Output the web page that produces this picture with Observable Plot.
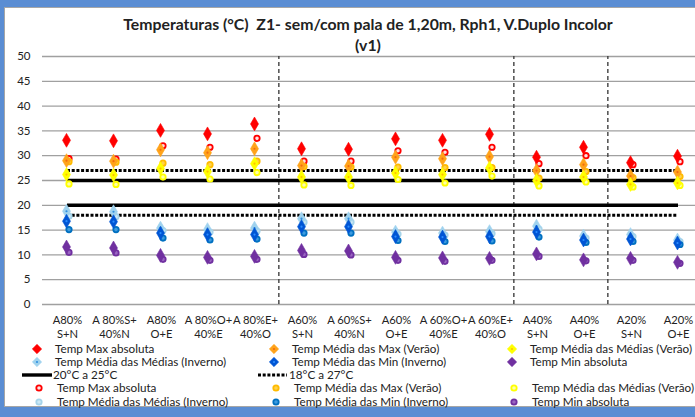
<!DOCTYPE html>
<html><head><meta charset="utf-8">
<script src="https://cdn.jsdelivr.net/npm/d3@7"></script>
<script src="https://cdn.jsdelivr.net/npm/@observablehq/plot@0.6"></script>
<style>
body{margin:0;font-family:Lato,"Open Sans",sans-serif;}
#wrap{position:relative;width:695px;height:417px;overflow:hidden;background:#5a8dd3;}
#panel{position:absolute;left:4px;top:7px;width:760px;height:400px;background:#fff;border:1px solid #a6a6a6;box-sizing:border-box;}
#title{position:absolute;left:0;width:736px;top:13px;text-align:center;font-weight:bold;font-size:15.8px;line-height:21px;color:#222;white-space:pre;}
#chart{position:absolute;left:0;top:0;}
#legend{position:absolute;left:0;top:0;}
</style></head><body>
<div id="wrap"><div id="panel"></div><div id="chart"></div><div id="title"></div><svg id="legend" width="695" height="417"></svg></div>
<script>
const titleLines = ["Temperaturas (°C)  Z1- sem/com pala de 1,20m, Rph1, V.Duplo Incolor", "(v1)"];
const line1 = ["A80%","A 80%S+","A80%","A 80%O+","A 80%E+","A60%","A 60%S+","A60%","A 60%O+","A 60%E+","A40%","A40%","A20%","A20%"];
const line2 = ["S+N","40%N","O+E","40%E","40%O","S+N","40%N","O+E","40%E","40%O","S+N","O+E","S+N","O+E"];
const categories = line1.map((a, i) => a + " " + line2[i]);
const yTicks = [0, 5, 10, 15, 20, 25, 30, 35, 40, 45, 50];
const dividers = ["A60% S+N", "A40% S+N", "A20% S+N"];
const solidLimits = [20, 25];
const dottedLimits = [18, 27];

// diamonds
const maxAbsD  = [33.1, 33.0, 35.1, 34.4, 36.4, 31.4, 31.3, 33.4, 33.1, 34.3, 29.7, 31.7, 28.6, 29.9];
const medMaxD  = [29.0, 28.9, 31.2, 30.6, 31.4, 28.0, 27.9, 29.7, 29.4, 29.8, 27.0, 28.2, 25.9, 26.7];
const medMedVD = [26.2, 26.1, 27.4, 26.8, 28.4, 25.7, 25.7, 26.5, 26.2, 27.5, 25.0, 25.7, 24.2, 24.5];
const medMedID = [18.8, 18.7, 15.4, 15.1, 15.4, 17.3, 17.3, 14.6, 14.4, 14.7, 15.8, 13.8, 14.1, 13.0];
const minMedD  = [16.8, 16.7, 14.4, 14.1, 14.1, 15.7, 15.7, 13.7, 13.6, 13.7, 14.6, 13.0, 13.2, 12.4];
const minAbsD  = [11.6, 11.4, 9.9, 9.5, 9.7, 10.9, 10.8, 9.5, 9.4, 9.3, 10.2, 9.0, 9.3, 8.5];
// circles
const maxAbsC  = [29.4, 29.3, 32.0, 31.7, 33.5, 28.9, 28.9, 31.0, 30.7, 31.7, 28.4, 30.0, 28.2, 28.8];
const medMaxC  = [28.8, 28.7, 28.5, 28.2, 28.9, 27.8, 27.7, 27.7, 27.6, 27.6, 25.5, 26.8, 25.6, 25.8];
const medMedVC = [24.3, 24.2, 25.7, 25.3, 26.6, 24.1, 24.0, 25.2, 24.5, 25.9, 23.9, 24.7, 23.7, 24.0];
const medMedIC = [17.8, 17.7, 14.9, 14.6, 14.8, 16.6, 16.6, 14.2, 14.0, 14.3, 15.2, 13.4, 13.7, 12.7];
const minMedC  = [15.1, 15.1, 13.4, 13.0, 13.2, 14.4, 14.4, 12.9, 12.7, 12.8, 13.6, 12.5, 12.7, 12.1];
const minAbsC  = [10.5, 10.4, 9.1, 8.9, 9.1, 10.1, 10.0, 8.9, 8.7, 8.9, 9.7, 8.8, 8.9, 8.3];

const seriesNames = ["Temp Max absoluta", "Temp Média das Max (Verão)", "Temp Média das Médias (Verão)",
  "Temp Média das Médias (Inverno)", "Temp Média das Min (Inverno)", "Temp Min absoluta"];
const diamondSeries = [
  {name: seriesNames[0], values: maxAbsD,  fill: "#ff0000", center: "#ff0000"},
  {name: seriesNames[1], values: medMaxD,  fill: "#ffa31a", center: "#f26b0f"},
  {name: seriesNames[2], values: medMedVD, fill: "#ffff00", center: "#ffc000"},
  {name: seriesNames[3], values: medMedID, fill: "#9fd2ee", center: "#2f8fe0"},
  {name: seriesNames[4], values: minMedD,  fill: "#0055d4", center: "#2a8cff"},
  {name: seriesNames[5], values: minAbsD,  fill: "#7030a0", center: "#7030a0"}
];
const circleSeries = [
  {name: seriesNames[0], values: maxAbsC,  stroke: "#ff0000", fill: "#ffe0e0"},
  {name: seriesNames[1], values: medMaxC,  stroke: "#ffbb00", fill: "#ffd24d"},
  {name: seriesNames[2], values: medMedVC, stroke: "#ffff00", fill: "#ffffa8"},
  {name: seriesNames[3], values: medMedIC, stroke: "#a6d4ea", fill: "#cde8f5"},
  {name: seriesNames[4], values: minMedC,  stroke: "#0070c0", fill: "#3d9be0"},
  {name: seriesNames[5], values: minAbsC,  stroke: "#7030a0", fill: "#9a66c2"}
];

document.getElementById("title").textContent = titleLines.join("\n");

const xRange = [65, 680];
const halfStep = (xRange[1] - xRange[0]) / (categories.length - 1) / 2;
const rows = s => s.values.map((v, i) => ({cat: categories[i], value: v}));
const dR = 4.2;

const marks = [
  Plot.ruleY(yTicks, {stroke: "#a0a0a0", strokeWidth: 1.3}),
  Plot.axisY({ticks: yTicks, tickSize: 0, tickPadding: 12, label: null, fontSize: 11.5}),
  Plot.axisX({tickSize: 0, tickPadding: 12, label: null, fontSize: 11.2, tickFormat: d => line1[categories.indexOf(d)]}),
  Plot.axisX({tickSize: 0, tickPadding: 26, label: null, fontSize: 11.2, tickFormat: d => line2[categories.indexOf(d)]}),
  Plot.ruleX(dividers, {x: d => d, y1: 0, y2: 50, dx: -halfStep, stroke: "#404040", strokeWidth: 1.4, strokeDasharray: "4,3"}),
  Plot.ruleY(solidLimits, {y: d => d, x1: () => categories[0], x2: () => categories[categories.length - 1], stroke: "#000", strokeWidth: 3.4}),
  Plot.ruleY(dottedLimits, {y: d => d, x1: () => categories[0], x2: () => categories[categories.length - 1], stroke: "#000", strokeWidth: 3, strokeDasharray: "3,1.7"})
];
for (const s of circleSeries) {
  marks.push(Plot.dot(rows(s), {x: "cat", y: "value", dx: 1.5, r: 2.7, stroke: s.stroke, strokeWidth: 1.8, fill: s.fill}));
}
for (const s of diamondSeries) {
  marks.push(Plot.dot(rows(s), {x: "cat", y: "value", dx: -1, symbol: "diamond", r: dR, fill: s.fill, stroke: s.fill, strokeWidth: 0.6}));
  if (s.center !== s.fill) marks.push(Plot.dot(rows(s), {x: "cat", y: "value", dx: -1, r: 1.1, fill: s.center}));
}

const plot = Plot.plot({
  width: 695, height: 345,
  marginTop: 56, marginBottom: 41, marginLeft: 42, marginRight: 0,
  style: {background: "transparent", fontFamily: "Lato, 'Open Sans', sans-serif", color: "#222"},
  x: {type: "point", domain: categories, range: xRange, padding: 0},
  y: {domain: [0, 50]},
  marks
});
document.getElementById("chart").appendChild(plot);

// legend
const lg = d3.select("#legend");
const rowY = [349, 362, 375, 388, 402];
const colMarker = [37, 274, 512];
const colText = [55, 292, 530];
const diamondPath = d3.symbol(d3.symbolDiamond2, Math.PI * dR * dR)();
function legendText(x, y, t) {
  lg.append("text").attr("x", x).attr("y", y).attr("dy", "0.35em")
    .attr("font-family", "Lato, 'Open Sans', sans-serif").attr("font-size", 11.7).attr("fill", "#222").text(t);
}
diamondSeries.forEach((s, i) => {
  const r = Math.floor(i / 3), c = i % 3;
  const g = lg.append("g").attr("transform", `translate(${colMarker[c]},${rowY[r]})`);
  g.append("path").attr("d", diamondPath).attr("fill", s.fill).attr("stroke", s.fill).attr("stroke-width", 0.6);
  if (s.center !== s.fill) g.append("circle").attr("r", 1.1).attr("fill", s.center);
  legendText(colText[c], rowY[r], s.name);
});
lg.append("line").attr("x1", 22).attr("x2", 52).attr("y1", rowY[2]).attr("y2", rowY[2]).attr("stroke", "#000").attr("stroke-width", 3.4);
legendText(53, rowY[2], "20°C a 25°C");
lg.append("line").attr("x1", 258).attr("x2", 287).attr("y1", rowY[2]).attr("y2", rowY[2]).attr("stroke", "#000").attr("stroke-width", 3).attr("stroke-dasharray", "3,1.7");
legendText(289, rowY[2], "18°C a 27°C");
circleSeries.forEach((s, i) => {
  const r = 3 + Math.floor(i / 3), c = i % 3;
  lg.append("circle").attr("cx", colMarker[c] + 2).attr("cy", rowY[r]).attr("r", 2.7)
    .attr("stroke", s.stroke).attr("stroke-width", 1.8).attr("fill", s.fill);
  legendText(colText[c] + 2, rowY[r], s.name);
});
</script>
</body></html>
